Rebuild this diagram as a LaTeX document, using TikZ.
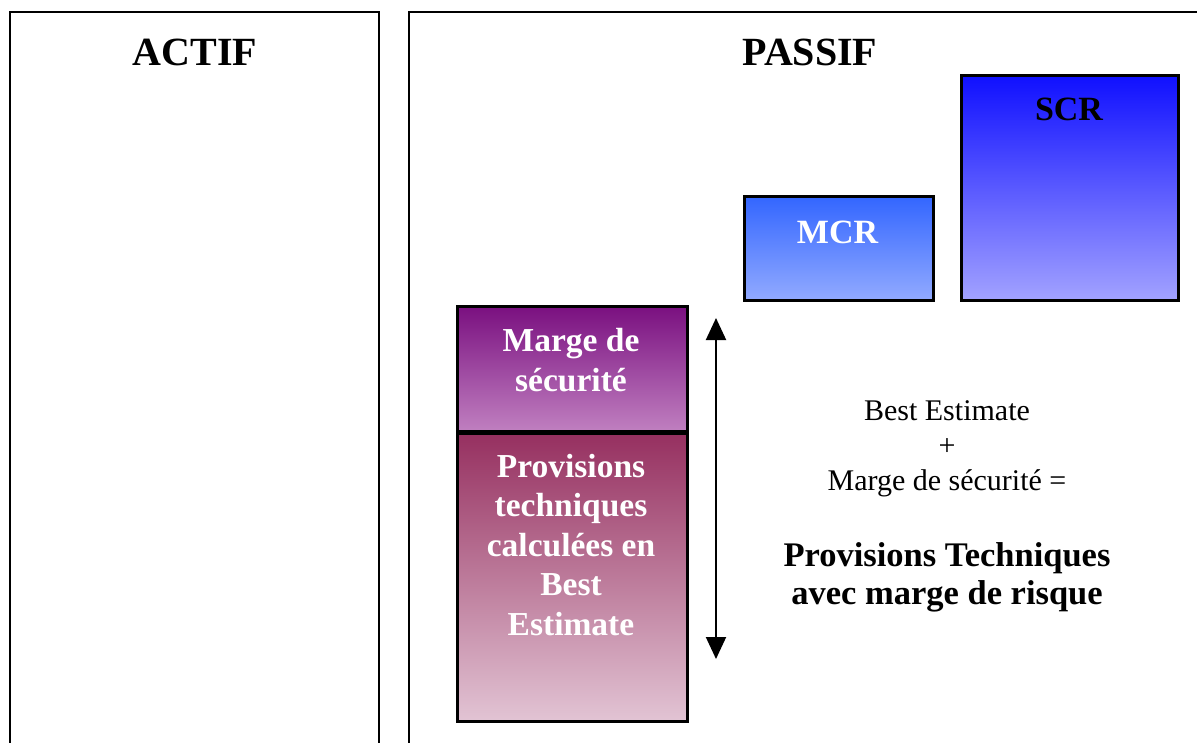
\documentclass[tikz,border=0pt]{standalone}
\usepackage{fontspec}
\setmainfont{Liberation Serif}
\usetikzlibrary{arrows.meta}
\definecolor{scrtop}{RGB}{16,16,255}
\definecolor{scrmid}{RGB}{115,115,255}
\definecolor{scrbot}{RGB}{162,162,255}
\definecolor{mcrtop}{RGB}{51,102,255}
\definecolor{mcrmid}{RGB}{100,135,255}
\definecolor{mcrbot}{RGB}{146,170,255}
\definecolor{mgtop}{RGB}{122,16,128}
\definecolor{mgmid}{RGB}{160,80,165}
\definecolor{mgbot}{RGB}{192,128,192}
\definecolor{pvtop}{RGB}{150,48,96}
\definecolor{pvmid}{RGB}{190,122,152}
\definecolor{pvbot}{RGB}{226,196,212}
\begin{document}
\begin{tikzpicture}[x=1pt,y=-1pt,
  panel/.style={line width=2.5pt},
  box/.style={draw=black,line width=3pt,inner sep=0pt,anchor=north west},
  title/.style={font=\fontsize{40}{48}\selectfont\bfseries,anchor=base},
  boxtext/.style={text=white,font=\fontsize{33.5}{39.5}\selectfont\bfseries,align=center,anchor=base,inner sep=0pt},
  bigtext/.style={font=\fontsize{34}{40}\selectfont\bfseries,anchor=base,inner sep=0pt},
  bigtextw/.style={text=white,font=\fontsize{34}{40}\selectfont\bfseries,anchor=base,inner sep=0pt},
  eqtext/.style={font=\fontsize{30}{35}\selectfont,align=center,anchor=base,inner sep=0pt},
  resulttext/.style={font=\fontsize{34.5}{38}\selectfont\bfseries,align=center,anchor=base,inner sep=0pt},
  dbl/.style={{Triangle[length=22pt,width=20pt]}-{Triangle[length=22pt,width=20pt]},line width=2pt}]
\useasboundingbox (0,0) rectangle (1197,742);
% panels
\draw[panel] (10,760) -- (10,12) -- (379,12) -- (379,760);
\draw[panel] (409,760) -- (409,12) -- (1210,12);
\node[title] (actif) at (195,65) {ACTIF};
\node[title] (passif) at (810,65) {PASSIF};
% boxes
\node[box,minimum width=217pt,minimum height=225pt,top color=scrtop,middle color=scrmid,bottom color=scrbot] (scr) at (960,74) {};
\node[bigtext] (scrlabel) at (1069,120) {SCR};
\node[box,minimum width=189pt,minimum height=104pt,top color=mcrtop,middle color=mcrmid,bottom color=mcrbot] (mcr) at (743,195) {};
\node[bigtextw] (mcrlabel) at (837.5,243) {MCR};
\node[box,minimum width=230pt,minimum height=125pt,top color=mgtop,middle color=mgmid,bottom color=mgbot] (marge) at (456,305) {};
\node[boxtext] (margelabel) at (571,391) {Marge de\\sécurité};
\node[box,minimum width=230pt,minimum height=288pt,top color=pvtop,middle color=pvmid,bottom color=pvbot] (prov) at (456,432) {};
\node[boxtext] (provlabel) at (571,635) {Provisions\\techniques\\calculées en\\Best\\Estimate};
% arrow
\coordinate (atop) at (716,318);
\coordinate (abot) at (716,659);
\draw[dbl] (atop) -- (abot);
% equation text
\node[eqtext] (eq) at (947,490) {Best Estimate\\+\\Marge de sécurité =};
\node[resulttext] (res) at (947,604) {Provisions Techniques\\avec marge de risque};
\end{tikzpicture}
\end{document}
